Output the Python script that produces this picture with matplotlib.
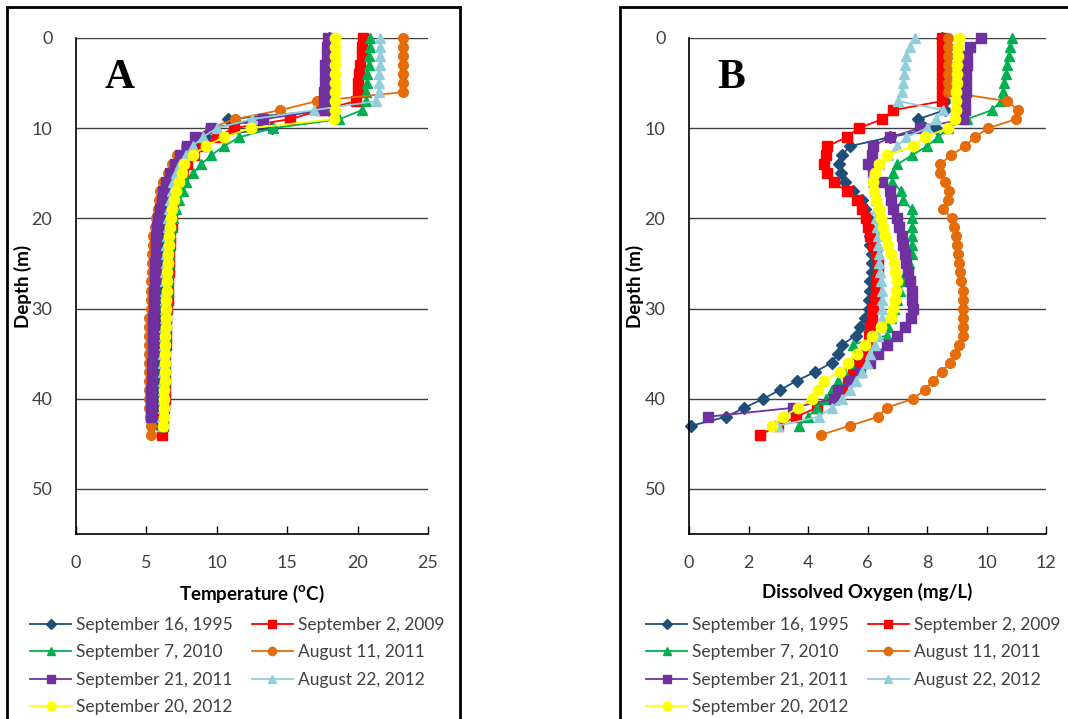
import matplotlib
matplotlib.use("Agg")
import matplotlib.pyplot as plt
from matplotlib.patches import Rectangle

plt.rcParams['font.family'] = ['Lato', 'DejaVu Sans']
plt.rcParams['mathtext.fontset'] = 'custom'
plt.rcParams['mathtext.rm'] = 'Lato'
plt.rcParams['mathtext.bf'] = 'Lato:bold'

names = ["September 16, 1995", "September 2, 2009", "September 7, 2010",
         "August 11, 2011", "September 21, 2011", "August 22, 2012",
         "September 20, 2012"]
colors = ["#1F4E79", "#FF0000", "#00B050", "#E46C0A", "#7030A0", "#92CDDC", "#FFFF00"]
markers = ["D", "s", "^", "o", "s", "^", "o"]
msizes = [6.5, 7, 7, 7, 7.5, 7, 7.5]

# ---- A: temperature (degC) at 1 m steps from the surface ----
temp_1995 = [18.0, 18.0, 18.0, 18.0, 18.0, 18.0, 18.0, 18.0, 18.0, 10.8, 13.9, 9.2, 8.3,
             7.7, 7.3, 7.0, 6.8, 6.6, 6.5, 6.4, 6.3, 6.3, 6.2, 6.2, 6.2, 6.1, 6.1, 6.1,
             6.0, 6.0, 6.0, 6.0, 6.0, 6.0, 5.9, 5.9, 5.9, 5.9, 5.9, 5.9, 5.9, 5.9, 5.9, 5.9]
temp_2009 = [20.4, 20.3, 20.3, 20.2, 20.1, 20.0, 20.0, 19.9, 17.4, 15.2, 11.2, 10.0, 9.0,
             8.4, 7.9, 7.6, 7.4, 7.2, 7.0, 6.9, 6.8, 6.8, 6.7, 6.7, 6.6, 6.6, 6.6, 6.5,
             6.5, 6.5, 6.45, 6.4, 6.4, 6.4, 6.4, 6.35, 6.35, 6.3, 6.3, 6.3, 6.3, 6.25,
             6.2, 6.15, 6.13]
temp_2010 = [20.9, 20.9, 20.8, 20.8, 20.7, 20.7, 20.6, 20.6, 20.3, 18.7, 14.0, 11.6, 10.5,
             9.6, 8.9, 8.3, 7.8, 7.6, 7.3, 7.1, 6.9, 6.8, 6.7, 6.7, 6.6, 6.6, 6.5, 6.5,
             6.5, 6.45, 6.45, 6.4, 6.4, 6.4, 6.35, 6.35, 6.3, 6.3, 6.3, 6.25, 6.25, 6.2,
             6.2, 6.2]
temp_aug2011 = [23.2, 23.2, 23.2, 23.2, 23.2, 23.2, 23.2, 17.1, 14.5, 11.3, 9.5, 8.5, 7.8,
                7.2, 6.8, 6.5, 6.2, 6.0, 5.9, 5.8, 5.7, 5.6, 5.5, 5.5, 5.4, 5.4, 5.4, 5.3,
                5.3, 5.3, 5.3, 5.2, 5.2, 5.2, 5.2, 5.2, 5.2, 5.2, 5.2, 5.2, 5.2, 5.2,
                5.25, 5.3, 5.3]
temp_sep2011 = [17.9, 17.8, 17.8, 17.7, 17.7, 17.7, 17.6, 17.6, 17.6, 13.3, 9.6, 8.45, 7.9,
                7.4, 7.0, 6.7, 6.4, 6.2, 6.1, 5.95, 5.8, 5.75, 5.7, 5.7, 5.65, 5.6, 5.6,
                5.6, 5.55, 5.55, 5.55, 5.5, 5.5, 5.5, 5.45, 5.45, 5.4, 5.4, 5.4, 5.35,
                5.35, 5.33, 5.3]
temp_aug2012 = [21.6, 21.6, 21.6, 21.6, 21.5, 21.5, 21.5, 21.3, 16.9, 12.5, 10.0, 9.0, 8.3,
                7.8, 7.4, 7.1, 6.9, 6.8, 6.7, 6.6, 6.5, 6.5, 6.45, 6.4, 6.4, 6.4, 6.35,
                6.35, 6.3, 6.3, 6.3, 6.3, 6.25, 6.25, 6.25, 6.2, 6.2, 6.2, 6.2, 6.2, 6.2,
                6.15, 6.1, 6.1]
temp_sep2012 = [18.4, 18.4, 18.4, 18.4, 18.4, 18.4, 18.4, 18.4, 18.4, 18.3, 12.4, 10.5, 9.2,
                8.3, 7.7, 7.5, 7.3, 7.1, 6.95, 6.85, 6.72, 6.68, 6.6, 6.57, 6.53, 6.5,
                6.48, 6.46, 6.44, 6.42, 6.4, 6.38, 6.36, 6.35, 6.34, 6.33, 6.32, 6.3,
                6.3, 6.28, 6.27, 6.25, 6.22, 6.2]

# ---- B: dissolved oxygen (mg/L) at 1 m steps ----
do_1995 = [8.5, 8.55, 8.6, 8.6, 8.6, 8.6, 8.6, 8.6, 8.6, 7.7, 8.3, 6.75, 5.4, 5.15, 5.05,
           5.1, 5.25, 5.5, 5.8, 5.9, 6.0, 6.05, 6.1, 6.1, 6.15, 6.15, 6.15, 6.1, 6.1,
           6.05, 6.05, 5.9, 5.75, 5.6, 5.15, 5.0, 4.8, 4.25, 3.63, 3.07, 2.5, 1.86, 1.25,
           0.07]
do_2009 = [8.5, 8.5, 8.5, 8.5, 8.5, 8.5, 8.5, 8.5, 6.86, 6.5, 5.7, 5.3, 4.65, 4.6, 4.55,
           4.65, 4.86, 5.3, 5.65, 5.8, 5.95, 6.0, 6.1, 6.18, 6.28, 6.36, 6.36, 6.33,
           6.28, 6.25, 6.2, 6.15, 6.1, 6.05, 6.0, 5.85, 5.7, 5.5, 5.35, 5.15, 4.9, 4.3,
           3.6, 3.0, 2.39]
do_2010 = [10.85, 10.8, 10.75, 10.7, 10.65, 10.6, 10.55, 10.5, 10.17, 9.35, 8.7, 8.37,
           8.0, 7.5, 7.0, 6.85, 6.84, 7.14, 7.2, 7.5, 7.5, 7.5, 7.5, 7.5, 7.5, 7.4, 7.3,
           7.2, 7.1, 7.0, 6.9, 6.8, 6.7, 6.64, 5.5, 5.6, 5.4, 5.2, 5.0, 4.8, 4.6, 4.3,
           4.0, 3.7]
do_aug2011 = [8.7, 8.7, 8.7, 8.7, 8.7, 8.7, 8.7, 10.7, 11.07, 11.0, 10.05, 9.6, 9.28, 8.8,
              8.45, 8.45, 8.6, 8.75, 8.7, 8.55, 8.83, 8.9, 8.97, 9.0, 9.05, 9.08, 9.1,
              9.15, 9.2, 9.2, 9.2, 9.2, 9.2, 9.2, 9.08, 8.94, 8.77, 8.5, 8.2, 7.93, 7.54,
              6.64, 6.36, 5.4, 4.44]
do_sep2011 = [9.83, 9.45, 9.35, 9.33, 9.32, 9.31, 9.3, 9.28, 9.27, 9.2, 7.76, 6.76, 6.18,
              6.15, 6.0, 6.2, 6.5, 6.76, 6.8, 6.85, 6.98, 7.05, 7.15, 7.2, 7.25, 7.3, 7.37,
              7.43, 7.48, 7.5, 7.52, 7.45, 7.26, 6.98, 6.64, 6.36, 6.08, 5.75, 5.4, 5.0,
              4.86, 3.5, 0.64]
do_aug2012 = [7.6, 7.43, 7.3, 7.26, 7.24, 7.2, 7.15, 7.03, 8.55, 8.3, 8.0, 7.3, 7.0, 6.7,
              6.4, 6.2, 6.2, 6.25, 6.3, 6.3, 6.3, 6.33, 6.35, 6.36, 6.38, 6.4, 6.42, 6.45,
              6.48, 6.5, 6.5, 6.5, 6.45, 6.35, 6.25, 6.1, 5.97, 5.8, 5.6, 5.4, 5.14, 4.8,
              4.36, 3.0]
do_sep2012 = [9.08, 9.05, 9.03, 9.02, 9.0, 9.0, 8.98, 8.97, 8.96, 8.95, 8.7, 7.92, 7.54,
              6.66, 6.4, 6.25, 6.2, 6.22, 6.3, 6.38, 6.47, 6.53, 6.6, 6.7, 6.8, 6.88,
              6.94, 6.98, 6.95, 6.92, 6.87, 6.8, 6.47, 6.14, 5.92, 5.64, 5.35, 5.07, 4.53,
              4.35, 4.13, 3.67, 3.17, 2.79]

temps = [temp_1995, temp_2009, temp_2010, temp_aug2011, temp_sep2011, temp_aug2012, temp_sep2012]
dos = [do_1995, do_2009, do_2010, do_aug2011, do_sep2011, do_aug2012, do_sep2012]

fig = plt.figure(figsize=(10.68, 7.19), dpi=100)

# panel frames
fig.patches.append(Rectangle((7 / 1068, -0.05), (460 - 7) / 1068, 1 - 7 / 719 + 0.05,
                             transform=fig.transFigure, fill=False, lw=2, ec='black'))
fig.patches.append(Rectangle((620 / 1068, -0.05), (1080 - 620) / 1068, 1 - 7 / 719 + 0.05,
                             transform=fig.transFigure, fill=False, lw=2, ec='black'))

axA = fig.add_axes([76 / 1068, 1 - 534 / 719, (428 - 76) / 1068, (534 - 38) / 719])
axB = fig.add_axes([689 / 1068, 1 - 534 / 719, (1046 - 689) / 1068, (534 - 38) / 719])


def style(ax, xmax, xstep, xlabel, letter, label_x):
    ax.set_ylim(55, 0)
    ax.set_xlim(0, xmax)
    ax.set_yticks(range(0, 51, 10))
    ax.set_xticks([i * xstep for i in range(int(xmax / xstep) + 1)])
    ax.yaxis.grid(True, color='#404040', lw=1)
    ax.set_axisbelow(True)
    for s in ['top', 'right']:
        ax.spines[s].set_visible(False)
    for s in ['left', 'bottom']:
        ax.spines[s].set_color('black')
        ax.spines[s].set_linewidth(1.2)
    ax.tick_params(axis='y', length=0, pad=17, labelsize=13, labelcolor='#404040')
    ax.tick_params(axis='x', direction='in', length=6, width=1, pad=15,
                   labelsize=13, labelcolor='#404040')
    ax.set_xlabel(xlabel, fontsize=13.5, fontweight='bold', labelpad=9)
    ax.set_ylabel("Depth (m)", fontsize=13.5, fontweight='bold')
    ax.yaxis.set_label_coords(label_x, 0.5)
    ax.text(0.08, 0.92, letter, transform=ax.transAxes, fontsize=30,
            fontweight='bold', family='Liberation Serif', va='center')


def draw(ax, series):
    handles = []
    for vals, name, c, m, ms in zip(series, names, colors, markers, msizes):
        depth = list(range(len(vals)))
        h, = ax.plot(vals, depth, color=c, marker=m, ms=ms, lw=1.3, label=name,
                     clip_on=False)
        handles.append(h)
    return handles


hA = draw(axA, temps)
hB = draw(axB, dos)
style(axA, 25, 5, r"Temperature ($^{\mathbf{o}}$C)", "A", -0.125)
style(axB, 12, 2, "Dissolved Oxygen (mg/L)", "B", -0.125)

for h, x0 in [(hA, 21 / 1068), (hB, 637 / 1068)]:
    order = [0, 2, 4, 6, 1, 3, 5]
    fig.legend([h[i] for i in order], [names[i] for i in order], ncol=2,
               loc='upper left', bbox_to_anchor=(x0, 1 - 608 / 719), frameon=False,
               fontsize=12.5, handlelength=2.4, handletextpad=0.25, columnspacing=1.1,
               labelspacing=0.66, borderpad=0, labelcolor='#404040', markerscale=0.85)

fig.savefig("out.png", dpi=100)
